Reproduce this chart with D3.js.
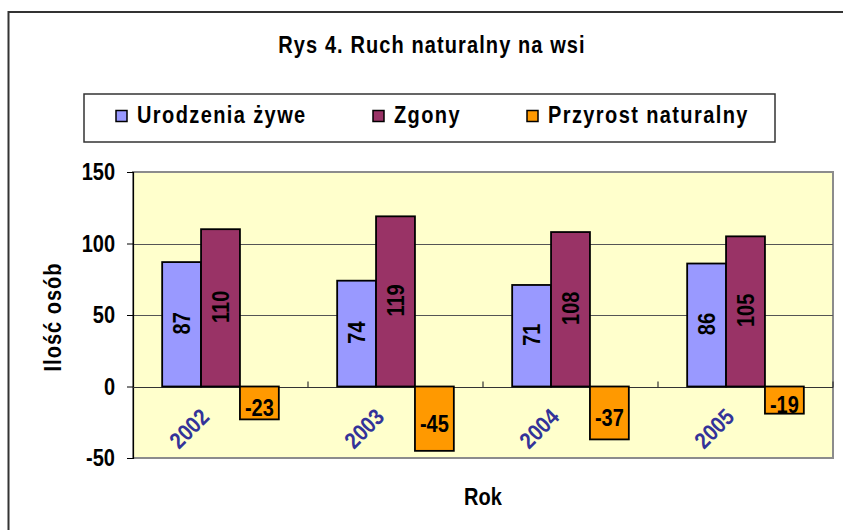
<!DOCTYPE html>
<html><head><meta charset="utf-8">
<script src="https://cdn.jsdelivr.net/npm/d3@7"></script>
<style>
html,body{margin:0;padding:0;background:#fff;overflow:hidden}
text{font-family:Arial,"Liberation Sans",sans-serif;font-weight:bold}
</style></head>
<body>
<svg id="c" width="843" height="530"></svg>
<script>
const categories = ["2002","2003","2004","2005"];
const seriesNames = ["Urodzenia żywe","Zgony","Przyrost naturalny"];
const births = [87,74,71,86];
const deaths = [110,119,108,105];
const growth = [-23,-45,-37,-19];
const yTicks = [-50,0,50,100,150];
const colors = ["#9999FF","#993366","#FF9900"];
const title = "Rys 4. Ruch naturalny na wsi";
const yTitle = "Ilość osób";
const xTitle = "Rok";

const series = [births, deaths, growth];
const svg = d3.select("#c");
const S = 1.15; // vertical glyph stretch

function txt(parent, x, y, rot, str, anchor, dy, ls){
  const t = parent.append("text")
    .attr("transform",`translate(${x},${y}) rotate(${rot}) scale(1,${S})`)
    .attr("text-anchor",anchor||"start").style("font-size","20px").text(str);
  if (dy) t.attr("dy",dy);
  if (ls) t.style("letter-spacing",ls);
  return t;
}

// outer chart border
svg.append("rect").attr("x",8.5).attr("y",12).attr("width",860).attr("height",540)
  .attr("fill","#fff").attr("stroke","#333").attr("stroke-width",2);

// title
txt(svg,432,53,0,title,"middle",null,"1.1px");

// legend
svg.append("rect").attr("x",84).attr("y",94).attr("width",691).attr("height",48)
  .attr("fill","#fff").attr("stroke","#333").attr("stroke-width",1.5);
const legX = [116,373,527];
seriesNames.forEach((n,i)=>{
  svg.append("rect").attr("x",legX[i]).attr("y",110.5).attr("width",11).attr("height",11)
    .attr("fill",colors[i]).attr("stroke","#000").attr("stroke-width",1.5);
  txt(svg,legX[i]+21,122.5,0,n,"start",null,"1.4px");
});

// scales
const L=133, R=833, T=172, B=458;
const y = d3.scaleLinear().domain([-50,150]).range([B,T]);
const x = d3.scaleBand().domain(categories).range([L,R]).paddingInner(0).paddingOuter(0);
const bw = x.bandwidth();
const barW = bw/4.5;
const x1 = d3.scaleBand().domain(d3.range(3)).range([barW*0.75, barW*3.75]).padding(0);

// plot area
svg.append("rect").attr("x",L).attr("y",T).attr("width",R-L).attr("height",B-T)
  .attr("fill","#FFFFCC").attr("stroke","#8c8c8c").attr("stroke-width",2);

// gridlines
svg.append("g").selectAll("line").data(yTicks.filter(t=>t>0 && t<150)).join("line")
  .attr("x1",L).attr("x2",R).attr("y1",d=>Math.round(y(d))+0.5).attr("y2",d=>Math.round(y(d))+0.5)
  .attr("stroke","#555").attr("stroke-width",1);

// y axis
const yAxis = d3.axisLeft(y).tickValues(yTicks).tickSize(6).tickFormat("");
const gy = svg.append("g").attr("transform",`translate(${L},0)`).call(yAxis);
gy.select(".domain").attr("stroke","#000").attr("stroke-width",1.2);
gy.selectAll(".tick line").attr("stroke","#000");
yTicks.forEach(t=>{ txt(svg, L-18, y(t), 0, String(t), "end", "0.36em"); });

// zero axis with category ticks
const y0 = Math.round(y(0))+0.5;
svg.append("line").attr("x1",L).attr("x2",R).attr("y1",y0).attr("y2",y0)
  .attr("stroke","#333").attr("stroke-width",1.2);
svg.append("g").selectAll("line").data(categories.slice(1).concat(["end"])).join("line")
  .attr("x1",d=>d==="end"?R:x(d)).attr("x2",d=>d==="end"?R:x(d))
  .attr("y1",y0).attr("y2",y0-6).attr("stroke","#333").attr("stroke-width",1.2);

// bars
categories.forEach((c,ci)=>{
  series.forEach((s,si)=>{
    const v = s[ci];
    const bx = x(c)+x1(si);
    const top = y(Math.max(0,v)), bot = y(Math.min(0,v));
    svg.append("rect").attr("x",bx).attr("y",top).attr("width",x1.bandwidth()).attr("height",bot-top)
      .attr("fill",colors[si]).attr("stroke","#000").attr("stroke-width",1.8);
    const cx = bx + x1.bandwidth()/2;
    if (v>=0){
      txt(svg, cx, (top+bot)/2 - 1, -90, String(v), "middle", "0.36em");
    } else {
      txt(svg, cx, (top+bot)/2 + 5, 0, String(v), "middle", "0.36em");
    }
  });
});

// category labels
categories.forEach(c=>{
  txt(svg, x(c)+bw/2-10, y(0)+32, -45, c, "end").attr("fill","#333399");
});

// axis titles
txt(svg,53,317,-90,yTitle,"middle","0.36em","1px");
txt(svg,(L+R)/2,505,0,xTitle,"middle");
</script>
</body></html>
